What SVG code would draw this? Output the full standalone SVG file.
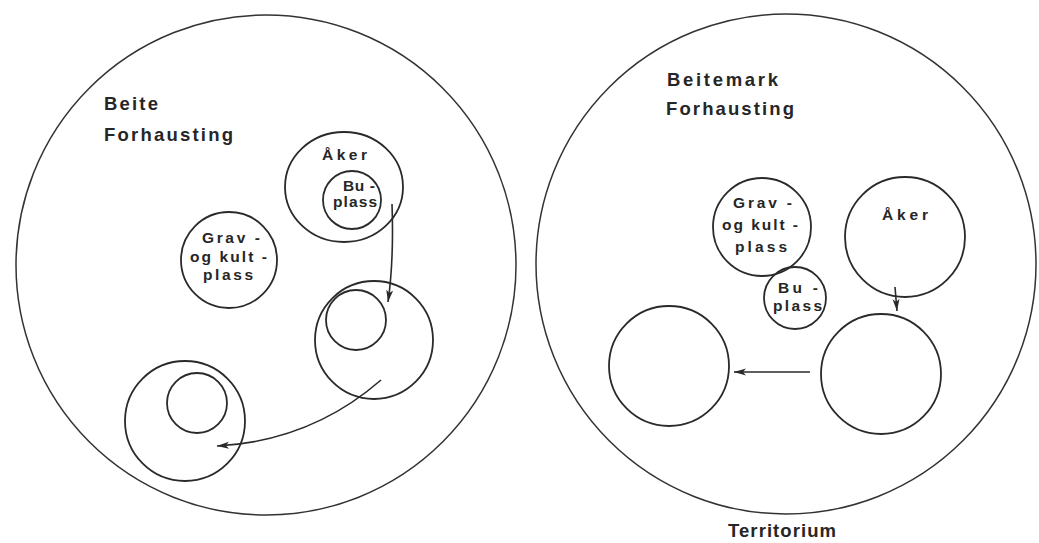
<svg xmlns="http://www.w3.org/2000/svg" width="1039" height="543" viewBox="0 0 1039 543">
<style>
.c{fill:none;stroke:#2a2a2a;stroke-width:1.8}
.b{fill:none;stroke:#333;stroke-width:1.5}
.t{font-family:"Liberation Sans","DejaVu Sans",sans-serif;font-weight:bold;fill:#262626}
.h{font-size:18.5px}
.s{font-size:15.5px}
.a{fill:none;stroke:#2a2a2a;stroke-width:1.6}
</style>
<defs>
<marker id="ah" markerUnits="userSpaceOnUse" markerWidth="14" markerHeight="8" refX="12" refY="3.5" orient="auto">
<path d="M0,0 L12,3.5 L0,7 L3,3.5 z" fill="#2a2a2a"/>
</marker>
</defs>
<rect width="1039" height="543" fill="#fff"/>
<g id="territory-left">
<circle class="b" cx="266" cy="265" r="250"/>
<text class="t h" x="104" y="110" textLength="54" lengthAdjust="spacing">Beite</text>
<text class="t h" x="104" y="141" textLength="129" lengthAdjust="spacing">Forhausting</text>
</g>
<g id="aker-left">
<ellipse class="c" cx="344" cy="187" rx="59" ry="55"/>
<text class="t s" x="322" y="160" textLength="45" lengthAdjust="spacing">Åker</text>
</g>
<g id="buplass-left">
<circle class="c" cx="352" cy="200" r="29"/>
<text class="t s" x="343" y="191" textLength="32" lengthAdjust="spacing">Bu -</text>
<text class="t s" x="333" y="207" textLength="44" lengthAdjust="spacing">plass</text>
</g>
<g id="grav-left">
<circle class="c" cx="229" cy="260" r="48"/>
<text class="t s" x="202" y="243" textLength="58" lengthAdjust="spacing">Grav -</text>
<text class="t s" x="190" y="262" textLength="77" lengthAdjust="spacing">og kult -</text>
<text class="t s" x="203" y="280" textLength="50" lengthAdjust="spacing">plass</text>
</g>
<g id="settle2-left">
<circle class="c" cx="374" cy="340" r="59"/>
<circle class="c" cx="356" cy="320" r="30"/>
</g>
<g id="settle3-left">
<circle class="c" cx="185" cy="421" r="60"/>
<circle class="c" cx="197" cy="403" r="30"/>
</g>
<g id="territory-right">
<circle class="b" cx="786" cy="264" r="250"/>
<text class="t h" x="667" y="86" textLength="111" lengthAdjust="spacing">Beitemark</text>
<text class="t h" x="666" y="115" textLength="128" lengthAdjust="spacing">Forhausting</text>
<text class="t h" x="728" y="537" textLength="108" lengthAdjust="spacing">Territorium</text>
</g>
<g id="grav-right">
<circle class="c" cx="762" cy="227" r="49"/>
<text class="t s" x="733" y="208" textLength="59" lengthAdjust="spacing">Grav -</text>
<text class="t s" x="722" y="230" textLength="76" lengthAdjust="spacing">og kult -</text>
<text class="t s" x="735" y="252" textLength="52" lengthAdjust="spacing">plass</text>
</g>
<g id="buplass-right">
<circle class="c" cx="795" cy="298" r="31"/>
<text class="t s" x="778" y="293" textLength="40" lengthAdjust="spacing">Bu -</text>
<text class="t s" x="773" y="311" textLength="49" lengthAdjust="spacing">plass</text>
</g>
<g id="aker-right">
<circle class="c" cx="905" cy="237" r="60"/>
<text class="t s" x="882" y="220" textLength="46" lengthAdjust="spacing">Åker</text>
</g>
<g id="field2-right">
<circle class="c" cx="881" cy="374" r="60"/>
</g>
<g id="field3-right">
<circle class="c" cx="669" cy="366" r="60"/>
</g>
<g id="connectors">
<path class="a" d="M392,204 Q394,260 388,302" marker-end="url(#ah)"/>
<path class="a" d="M381,380 Q311,441 217,446" marker-end="url(#ah)"/>
<path class="a" d="M895,287 L897,311" marker-end="url(#ah)"/>
<path class="a" d="M810,372 L734,372" marker-end="url(#ah)"/>
</g>
</svg>
